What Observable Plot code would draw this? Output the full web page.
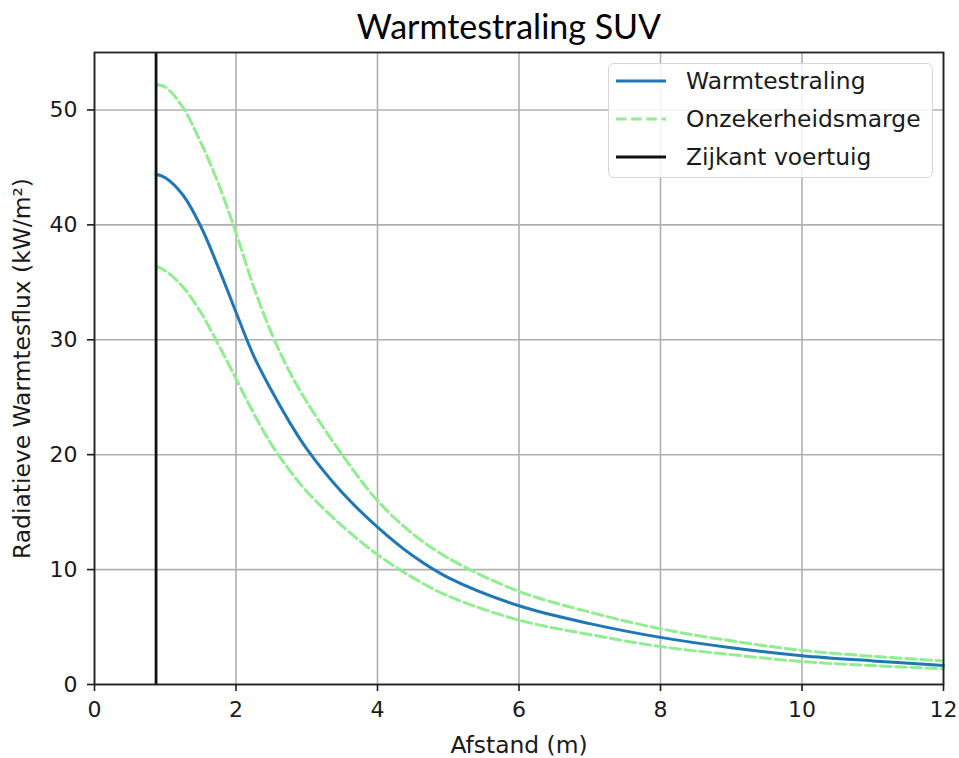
<!DOCTYPE html>
<html>
<head>
<meta charset="utf-8">
<script src="https://cdn.jsdelivr.net/npm/d3@7"></script>
<script src="https://cdn.jsdelivr.net/npm/@observablehq/plot@0.6"></script>
<style>
  html, body { margin: 0; padding: 0; background: #fff; }
  #wrap { position: relative; width: 959px; height: 758px; overflow: hidden; }
  #title { position: absolute; left: 0; top: 1px; width: 1018px; height: 50px;
           text-align: center; font-family: "Liberation Sans Narrow", "Lato", sans-serif; font-size: 34px;
           line-height: 50px; color: #000; z-index: 2; }
  #chart { position: absolute; left: 0; top: 0; }
  #legend { position: absolute; left: 608px; top: 63px; width: 325px; height: 115px; box-sizing: border-box;
            border: 1.5px solid #d6d6d6; border-radius: 6px; background: rgba(255,255,255,0.85);
            font-family: "DejaVu Sans", sans-serif; font-size: 23.4px; color: #1a1a1a; }
  .row { position: absolute; left: 0; height: 30px; display: flex; align-items: center; }
  .row svg { margin-left: 6px; }
  .row span { margin-left: 19px; white-space: nowrap; }
</style>
</head>
<body>
<div id="wrap">
  <div id="title">Warmtestraling SUV</div>
  <div id="chart"></div>
  <div id="legend"></div>
</div>
<script>
// Distance samples (m)
const afstand     = [0.87, 1.0, 1.25, 1.5, 1.75, 2.0, 2.25, 2.5, 2.75, 3.0, 3.5, 4.0, 4.5, 5.0, 6.0, 7.0, 8.0, 9.0, 10.0, 11.0, 12.0];
// Radiative heat flux (kW/m²)
const warmte      = [44.4, 44.1, 42.6, 39.9, 36.3, 32.4, 28.6, 25.6, 22.9, 20.5, 16.7, 13.7, 11.2, 9.3, 6.85, 5.3, 4.1, 3.2, 2.5, 2.05, 1.66];
const bovengrens  = [52.2, 52.0, 50.2, 47.2, 43.6, 39.3, 34.6, 30.6, 27.3, 24.6, 20.0, 16.0, 13.1, 11.0, 8.1, 6.3, 4.85, 3.8, 2.97, 2.45, 2.05];
const ondergrens  = [36.4, 36.0, 34.6, 32.4, 29.6, 26.6, 23.6, 20.9, 18.7, 16.8, 13.8, 11.3, 9.3, 7.7, 5.6, 4.35, 3.3, 2.6, 2.0, 1.65, 1.37];
// Side of vehicle position (m)
const zijkant = [0.87];
// Axis ticks
const xTicks = [0, 2, 4, 6, 8, 10, 12];
const yTicks = [0, 10, 20, 30, 40, 50];
// Legend labels
const legendLabels = ["Warmtestraling", "Onzekerheidsmarge", "Zijkant voertuig"];

const mid  = afstand.map((x, i) => ({x, y: warmte[i]}));
const up   = afstand.map((x, i) => ({x, y: bovengrens[i]}));
const down = afstand.map((x, i) => ({x, y: ondergrens[i]}));

const blue = "#1f77b4", green = "#90ee90";
const dash = "10.5,4.6";

const chart = Plot.plot({
  width: 959,
  height: 758,
  marginLeft: 94,
  marginRight: 16,
  marginTop: 52,
  marginBottom: 74,
  style: {fontFamily: "DejaVu Sans, sans-serif", fontSize: "22px", color: "#1a1a1a", background: "transparent"},
  x: {domain: [0, 12]},
  y: {domain: [0, 55]},
  marks: [
    Plot.gridX(xTicks, {stroke: "#b0b0b0", strokeOpacity: 1, strokeWidth: 1.6}),
    Plot.gridY(yTicks, {stroke: "#b0b0b0", strokeOpacity: 1, strokeWidth: 1.6}),
    Plot.line(up,   {x: "x", y: "y", stroke: green, strokeWidth: 3, strokeDasharray: dash, curve: "catmull-rom"}),
    Plot.line(down, {x: "x", y: "y", stroke: green, strokeWidth: 3, strokeDasharray: dash, curve: "catmull-rom"}),
    Plot.line(mid,  {x: "x", y: "y", stroke: blue, strokeWidth: 3, curve: "catmull-rom"}),
    Plot.ruleX(zijkant, {stroke: "#111", strokeWidth: 2.8}),
    Plot.frame({stroke: "#222", strokeWidth: 1.8}),
    Plot.axisX(xTicks, {tickSize: 7, tickPadding: 10, strokeWidth: 1.6, label: null}),
    Plot.axisY(yTicks, {tickSize: 7, tickPadding: 10, strokeWidth: 1.6, label: null}),
    Plot.text(["Afstand (m)"], {frameAnchor: "bottom", dy: 61, fontSize: 23.4, textAnchor: "middle", lineAnchor: "middle"}),
    Plot.text(["Radiatieve Warmtesflux (kW/m²)"], {frameAnchor: "left", dx: -72, rotate: -90, fontSize: 23.4, textAnchor: "middle", lineAnchor: "middle"})
  ]
});
document.getElementById("chart").appendChild(chart);

// Legend
const legend = document.getElementById("legend");
const styles = [
  {stroke: blue, dash: null},
  {stroke: green, dash: dash},
  {stroke: "#111", dash: null}
];
legendLabels.forEach((lab, i) => {
  const row = document.createElement("div");
  row.className = "row";
  row.style.top = (2 + i * 38) + "px";
  const s = styles[i];
  row.innerHTML = `<svg width="52" height="10"><line x1="1" y1="5" x2="51" y2="5" stroke="${s.stroke}" stroke-width="3" ${s.dash ? `stroke-dasharray="${s.dash}"` : ""}/></svg><span>${lab}</span>`;
  legend.appendChild(row);
});
</script>
</body>
</html>
